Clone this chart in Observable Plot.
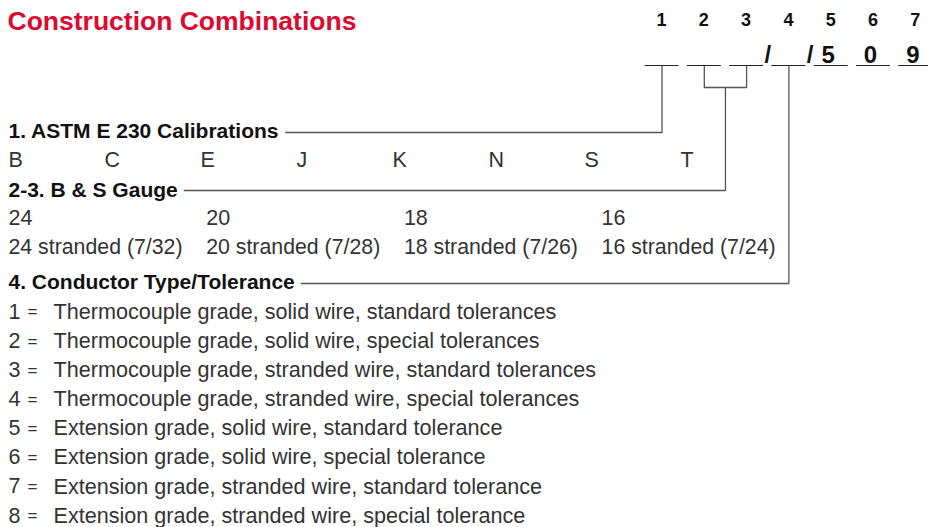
<!DOCTYPE html>
<html><head><meta charset="utf-8">
<script src="https://cdn.jsdelivr.net/npm/d3@7"></script>
<script src="https://cdn.jsdelivr.net/npm/@observablehq/plot@0.6"></script>
<style>html,body{margin:0;padding:0;background:#fff}</style>
</head><body><div id="chart"></div>
<script>
// ---- content ----
const title = "Construction Combinations";
const codePositions = ["1", "2", "3", "4", "5", "6", "7"];
const codeFixed = ["", "", "", "", "5", "0", "9"];
const separatorAfter = [2, 3];           // a "/" follows these code positions
const sectionLabels = ["1. ASTM E 230 Calibrations", "2-3. B & S Gauge", "4. Conductor Type/Tolerance"];
const sectionPositions = [[0], [1, 2], [3]];
const calibrations = ["B", "C", "E", "J", "K", "N", "S", "T"];
const gauges = ["24", "20", "18", "16"];
const strandedGauges = ["24 stranded (7/32)", "20 stranded (7/28)", "18 stranded (7/26)", "16 stranded (7/24)"];
const conductorCodes = ["1", "2", "3", "4", "5", "6", "7", "8"];
const conductorTypes = [
  "Thermocouple grade, solid wire, standard tolerances",
  "Thermocouple grade, solid wire, special tolerances",
  "Thermocouple grade, stranded wire, standard tolerances",
  "Thermocouple grade, stranded wire, special tolerances",
  "Extension grade, solid wire, standard tolerance",
  "Extension grade, solid wire, special tolerance",
  "Extension grade, stranded wire, standard tolerance",
  "Extension grade, stranded wire, special tolerance"
];

// ---- layout ----
const W = 928, H = 527;
const headFont = "'Liberation Sans', Arial, Helvetica, sans-serif";
const bodyFont = "'Liberation Sans', Arial, Helvetica, sans-serif";
const slotX = i => 661.5 + 42.3 * i;
const underlineY = 65;
const bracketY = 87;
const sectionY = [130.5, 189.5, 282];
const sectionLineY = [132, 190, 283];
const calX = i => 8 + 96 * i, calY = 160;
const gaugeX = i => 8 + 197.7 * i, gaugeY = 217.5, strandedY = 246.5;
const listY = i => 311.5 + 29.1 * i;

const ctx = document.createElement("canvas").getContext("2d");
ctx.font = `bold 21px ${headFont}`;
const textEnd = sectionLabels.map(s => 8 + ctx.measureText(s).width + 6);

// connectors
const connectors = [];
sectionPositions.forEach((ps, k) => {
  if (ps.length === 1) {
    const x = slotX(ps[0]);
    connectors.push({id: `s${k}`, pts: [[x, underlineY], [x, sectionLineY[k]], [textEnd[k], sectionLineY[k]]]});
  } else {
    const xa = slotX(ps[0]), xb = slotX(ps[ps.length - 1]), xm = (xa + xb) / 2;
    connectors.push({id: `b${k}`, pts: [[xa, underlineY], [xa, bracketY], [xb, bracketY], [xb, underlineY]]});
    connectors.push({id: `s${k}`, pts: [[xm, bracketY], [xm, sectionLineY[k]], [textEnd[k], sectionLineY[k]]]});
  }
});
const connectorPts = connectors.flatMap(c => c.pts.map(p => ({id: c.id, x: p[0], y: p[1]})));

const chart = Plot.plot({
  width: W, height: H, margin: 0,
  x: {type: "identity", axis: null},
  y: {type: "identity", axis: null},
  style: {background: "#fff"},
  marks: [
    Plot.text([title], {x: 7, y: 21, text: d => d, textAnchor: "start", lineAnchor: "middle",
      fontSize: 26.5, fontWeight: "bold", fill: "#dd0a2f", fontFamily: headFont}),
    Plot.text(codePositions, {x: (d, i) => slotX(i) - 0.5, y: 20, text: d => d, textAnchor: "middle", lineAnchor: "middle",
      fontSize: 18, fontWeight: "bold", fill: "#111", fontFamily: headFont}),
    Plot.ruleY(codePositions, {y: underlineY, x1: (d, i) => slotX(i) - 17, x2: (d, i) => slotX(i) + 17, stroke: "#222", strokeWidth: 1.2}),
    Plot.text(codeFixed, {x: (d, i) => slotX(i) - 3, y: 54.5, text: d => d, textAnchor: "middle", lineAnchor: "middle",
      fontSize: 24, fontWeight: "bold", fill: "#111", fontFamily: headFont}),
    Plot.text(separatorAfter, {x: d => (slotX(d) + slotX(d + 1)) / 2, y: 54.5, text: () => "/", textAnchor: "middle", lineAnchor: "middle",
      fontSize: 24, fontWeight: "bold", fill: "#111", fontFamily: headFont}),
    Plot.line(connectorPts, {x: "x", y: "y", z: "id", stroke: "#555", strokeWidth: 1.3, curve: "linear", strokeLinejoin: "miter", strokeLinecap: "butt"}),
    Plot.text(sectionLabels, {x: 8, y: (d, i) => sectionY[i], text: d => d, textAnchor: "start", lineAnchor: "middle",
      fontSize: 21, fontWeight: "bold", fill: "#111", fontFamily: headFont}),
    Plot.text(calibrations, {x: (d, i) => calX(i), y: calY, text: d => d, textAnchor: "start", lineAnchor: "middle",
      fontSize: 21.5, fill: "#333", fontFamily: bodyFont}),
    Plot.text(gauges, {x: (d, i) => gaugeX(i), y: gaugeY, text: d => d, textAnchor: "start", lineAnchor: "middle",
      fontSize: 21.5, fill: "#333", fontFamily: bodyFont}),
    Plot.text(strandedGauges, {x: (d, i) => gaugeX(i), y: strandedY, text: d => d, textAnchor: "start", lineAnchor: "middle",
      fontSize: 21.3, fill: "#333", fontFamily: bodyFont}),
    Plot.text(conductorCodes, {x: 8, y: (d, i) => listY(i), text: d => d, textAnchor: "start", lineAnchor: "middle",
      fontSize: 21.5, fill: "#333", fontFamily: bodyFont}),
    Plot.text(conductorCodes, {x: 32, y: (d, i) => listY(i), text: () => "=", textAnchor: "middle", lineAnchor: "middle",
      fontSize: 17, fill: "#333", fontFamily: bodyFont}),
    Plot.text(conductorTypes, {x: 53, y: (d, i) => listY(i), text: d => d, textAnchor: "start", lineAnchor: "middle",
      fontSize: 21.6, fill: "#333", fontFamily: bodyFont})
  ]
});
document.getElementById("chart").appendChild(chart);
</script>
</body></html>
